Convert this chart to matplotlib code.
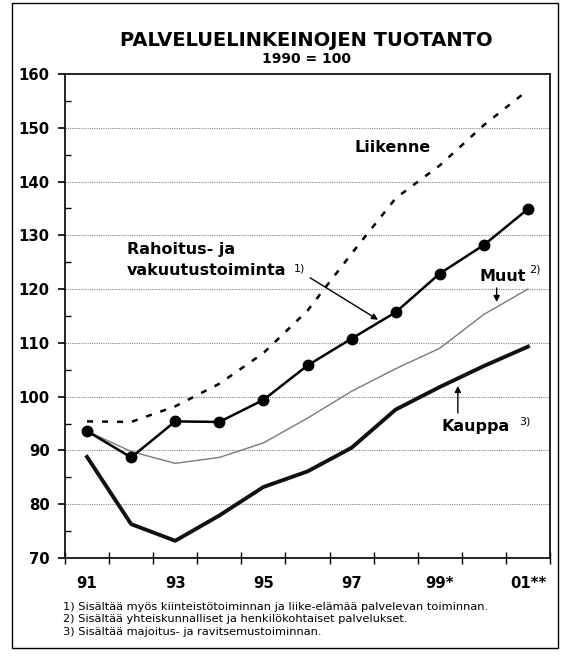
import matplotlib
matplotlib.use("Agg")
import matplotlib.pyplot as plt
from matplotlib.patches import Rectangle

plt.rcParams['font.family'] = ['DejaVu Sans']

years = ["91", "92", "93", "94", "95", "96", "97", "98", "99*", "00", "01**"]
tick_labels = ["91", "", "93", "", "95", "", "97", "", "99*", "", "01**"]

liikenne = [95.4, 95.3, 98.2, 102.4, 108.1, 116.0, 126.6, 136.9, 143.0, 150.5, 157.0]
rahoitus = [93.6, 88.7, 95.4, 95.3, 99.4, 105.8, 110.8, 115.7, 122.9, 128.2, 134.9]
muut = [93.6, 89.8, 87.6, 88.7, 91.4, 96.0, 101.0, 105.2, 109.0, 115.3, 120.0]
kauppa = [88.8, 76.3, 73.2, 77.9, 83.2, 86.1, 90.5, 97.6, 101.8, 105.7, 109.3]

W, H = 563, 662
fig = plt.figure(figsize=(W / 100, H / 100), dpi=100)
fig.patch.set_facecolor('white')

# outer frame
fig.patches.append(Rectangle((12 / W, 1 - 648 / H), (558 - 12) / W, (648 - 3) / H,
                             transform=fig.transFigure, fill=False,
                             edgecolor='black', linewidth=1.0))

ax = fig.add_axes([65 / W, 1 - 558 / H, 485 / W, 484 / H])
x = list(range(len(years)))

ax.plot(x, liikenne, color='black', linewidth=1.8, linestyle=(0, (2.4, 3.6)))
ax.plot(x, muut, color='#7a7a7a', linewidth=1.0)
ax.plot(x, kauppa, color='#111111', linewidth=2.8)
ax.plot(x, rahoitus, color='black', linewidth=1.8, marker='o', markersize=7.5,
        markerfacecolor='black')

ax.set_xlim(-0.5, len(years) - 0.5)
ax.set_ylim(70, 160)

# y ticks
ax.set_yticks(range(70, 161, 10))
ax.set_yticklabels([str(v) for v in range(70, 161, 10)], fontsize=10.7, fontweight='bold')
ax.set_yticks(range(75, 160, 10), minor=True)
ax.tick_params(axis='y', which='major', direction='out', length=5, width=1.2, pad=6)
ax.tick_params(axis='y', which='minor', direction='in', length=4, width=1.0)

# x ticks: marks at boundaries, labels at centers
ax.set_xticks([i - 0.5 for i in range(len(years) + 1)])
ax.set_xticklabels([])
ax.set_xticks(x, minor=True)
ax.set_xticklabels(tick_labels, minor=True, fontsize=10.7, fontweight='bold')
ax.tick_params(axis='x', which='major', direction='inout', length=8, width=1.0)
ax.tick_params(axis='x', which='minor', length=0, pad=13)

for v in range(80, 160, 10):
    ax.axhline(v, color='#888888', linewidth=0.8, linestyle=(0, (1, 1)), zorder=0)

for s in ax.spines.values():
    s.set_linewidth(1.2)

# titles
fig.text(306 / W, 1 - 40 / H, "PALVELUELINKEINOJEN TUOTANTO", ha='center', va='center',
         fontsize=14, fontweight='bold')
fig.text(306 / W, 1 - 59 / H, "1990 = 100", ha='center', va='center',
         fontsize=10, fontweight='bold')

# series labels
lab = dict(fontsize=11.5, fontweight='bold', va='center')
sup = dict(fontsize=8, ha='left', va='center', textcoords='offset points')
ax.text(6.94, 146.4, "Liikenne", ha='center', **lab)
ax.text(0.905, 127.3, "Rahoitus- ja", ha='left', **lab)
t1 = ax.text(0.905, 123.4, "vakuutustoiminta", ha='left', **lab)
ax.annotate("1)", xy=(1, 0.5), xycoords=t1, xytext=(5, 2), **sup)
ax.annotate("", xy=(6.6, 114.3), xytext=(5.06, 122.1),
            arrowprops=dict(arrowstyle='-|>', color='black', lw=1.0,
                            mutation_scale=9, shrinkA=0, shrinkB=0))

t2 = ax.text(8.91, 122.3, "Muut", ha='left', **lab)
ax.annotate("2)", xy=(1, 0.5), xycoords=t2, xytext=(2, 5), **sup)
ax.annotate("", xy=(9.29, 117.6), xytext=(9.29, 120.2),
            arrowprops=dict(arrowstyle='-|>', color='black', lw=1.0,
                            mutation_scale=9, shrinkA=0, shrinkB=0))

t3 = ax.text(8.04, 94.4, "Kauppa", ha='left', **lab)
ax.annotate("3)", xy=(1, 0.5), xycoords=t3, xytext=(7, 4), **sup)
ax.annotate("", xy=(8.41, 102.0), xytext=(8.41, 97.0),
            arrowprops=dict(arrowstyle='-|>', color='black', lw=1.0,
                            mutation_scale=9, shrinkA=0, shrinkB=0))

# footnotes
notes = ["1) Sisältää myös kiinteistötoiminnan ja liike-elämää palvelevan toiminnan.",
         "2) Sisältää yhteiskunnalliset ja henkilökohtaiset palvelukset.",
         "3) Sisältää majoitus- ja ravitsemustoiminnan."]
for i, t in enumerate(notes):
    fig.text(63 / W, 1 - (607 + 12.5 * i) / H, t, ha='left', va='center', fontsize=8.2)

fig.savefig("out.png", dpi=100, facecolor='white')
